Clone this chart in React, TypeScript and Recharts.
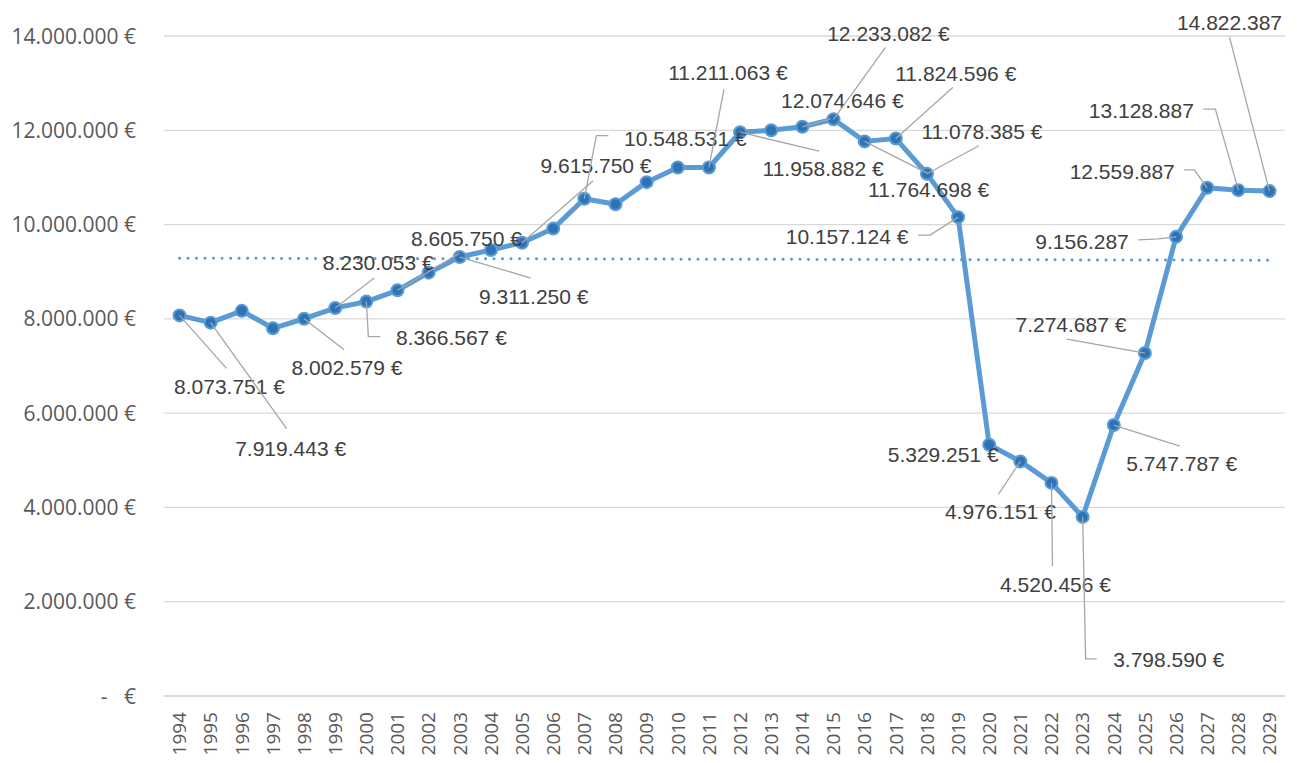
import React from "react";
import { LineChart, Line, XAxis, YAxis, CartesianGrid, LabelList } from "recharts";

const YEARS = [
  1994, 1995, 1996, 1997, 1998, 1999, 2000, 2001, 2002, 2003, 2004, 2005,
  2006, 2007, 2008, 2009, 2010, 2011, 2012, 2013, 2014, 2015, 2016, 2017,
  2018, 2019, 2020, 2021, 2022, 2023, 2024, 2025, 2026, 2027, 2028, 2029,
];

const VALUES = [
  8073751, 7919443, 8170000, 7800000, 8002579, 8230053, 8366567, 8605750,
  8980000, 9311250, 9460000, 9615750, 9915000, 10548531, 10430000, 10900000,
  11210000, 11211063, 11958882, 12000000, 12074646, 12233082, 11764698, 11824596,
  11078385, 10157124, 5329251, 4976151, 4520456, 3798590, 5747787, 7274687,
  9740000, 10780000, 10730000, 10710000,
];

const LABELS: (string | null)[] = [
  "8.073.751 €", "7.919.443 €", null, null, "8.002.579 €", "8.230.053 €",
  "8.366.567 €", "8.605.750 €", null, "9.311.250 €", null, "9.615.750 €",
  null, "10.548.531 €", null, null, null, "11.211.063 €",
  "11.958.882 €", null, "12.074.646 €", "12.233.082 €", "11.764.698 €", "11.824.596 €",
  "11.078.385 €", "10.157.124 €", "5.329.251 €", "4.976.151 €", "4.520.456 €", "3.798.590 €",
  "5.747.787 €", "7.274.687 €", "9.156.287", "12.559.887", "13.128.887", "14.822.387",
];

// linear trend, start and end values
const TREND_ENDS = [9287000, 9243000];

const Y_TICKS = [0, 2000000, 4000000, 6000000, 8000000, 10000000, 12000000, 14000000];

// where Excel placed each data label, relative to its point: text centre/baseline and leader path
const LABEL_LAYOUT: { [year: number]: { dx: number; dy: number; leader: number[][] } } = {
  1994: { dx: 50, dy: 79, leader: [[47, 53]] },
  1995: { dx: 80, dy: 133, leader: [[76, 106]] },
  1998: { dx: 43, dy: 56, leader: [[40, 31]] },
  1999: { dx: 43, dy: -38, leader: [[39, -30]] },
  2000: { dx: 85, dy: 43, leader: [[2, 35], [14, 35]] },
  2001: { dx: 69, dy: -44, leader: [[62, -37]] },
  2003: { dx: 74, dy: 47, leader: [[71, 21]] },
  2005: { dx: 74, dy: -70, leader: [[71, -62]] },
  2007: { dx: 101, dy: -53, leader: [[12, -63], [24, -63]] },
  2011: { dx: 19, dy: -87, leader: [[15, -78]] },
  2012: { dx: 83, dy: 44, leader: [[79, 19]] },
  2014: { dx: 40, dy: -19, leader: [[28, -8]] },
  2015: { dx: 55, dy: -78, leader: [[52, -72]] },
  2016: { dx: 64, dy: 56, leader: [[63, 32]] },
  2017: { dx: 60, dy: -58, leader: [[57, -51]] },
  2018: { dx: 55, dy: -35, leader: [[52, -28]] },
  2019: { dx: -111, dy: 27, leader: [[-28, 18], [-40, 18]] },
  2020: { dx: -46, dy: 17, leader: [] },
  2021: { dx: -20, dy: 58, leader: [[-22, 33]] },
  2022: { dx: 4, dy: 109, leader: [[1, 83]] },
  2023: { dx: 86, dy: 150, leader: [[3, 142], [14, 142]] },
  2024: { dx: 68, dy: 46, leader: [[66, 21]] },
  2025: { dx: -74, dy: -21, leader: [[-78, -14]] },
  2026: { dx: -94, dy: 12, leader: [[-18, 2], [-38, 3]] },
  2027: { dx: -85, dy: -9, leader: [[-13, -18], [-23, -18]] },
  2028: { dx: -97, dy: -72, leader: [[-23, -81], [-35, -81]] },
  2029: { dx: -40, dy: -161, leader: [[-40, -154]] },
};

const FONT = "'Liberation Sans', Arial, sans-serif";
const AXIS_FONT = "'Open Sans', 'Noto Sans', sans-serif";
const BLUE = "#5B9BD5";

const data = YEARS.map((year, i) => ({
  year: String(year),
  value: VALUES[i],
  label: LABELS[i],
  trend: i === 0 ? TREND_ENDS[0] : i === YEARS.length - 1 ? TREND_ENDS[1] : null,
}));

const euro = (v: number) =>
  v === 0 ? "-   €" : String(v).replace(/\B(?=(\d{3})+(?!\d))/g, ".") + " €";

const YTick = (props: any) => {
  const { x, y, payload } = props;
  return (
    <text x={x} y={y} dy="0.36em" textAnchor="end" fill="#595959" fontSize={21}
      fontFamily={AXIS_FONT} style={{ whiteSpace: "pre" }}>
      {euro(payload.value)}
    </text>
  );
};

const XTick = (props: any) => {
  const { x, y, payload } = props;
  return (
    <text x={x} y={y} dy="0.36em" textAnchor="end" fill="#595959" fontSize={19}
      fontFamily={AXIS_FONT} transform={`rotate(-90, ${x}, ${y})`}>
      {payload.value}
    </text>
  );
};

const renderLabel = (props: any) => {
  const { x, y, index } = props;
  const text = LABELS[index];
  const layout = LABEL_LAYOUT[YEARS[index]];
  if (!text || !layout || x == null || y == null) return null;
  const pts = [[x, y], ...layout.leader.map(([lx, ly]) => [x + lx, y + ly])];
  return (
    <g>
      {pts.length > 1 && (
        <polyline points={pts.map((p) => p.join(",")).join(" ")} fill="none"
          stroke="#A6A6A6" strokeWidth={1.3} />
      )}
      <text x={x + layout.dx} y={y + layout.dy} textAnchor="middle" fill="#404040"
        fontSize={21} fontFamily={FONT}>
        {text}
      </text>
    </g>
  );
};

export default function App() {
  return (
    <div style={{ position: "absolute", left: 0, top: 0, background: "#fff" }}>
      <LineChart width={1297} height={763} data={data}
        margin={{ top: 36, right: 12, bottom: 0, left: 0 }}>
        <CartesianGrid vertical={false} stroke="#D9D9D9" strokeWidth={1.3} />
        <XAxis dataKey="year" interval={0} height={67} tickSize={0} tickMargin={16}
          padding={{ left: 15.5, right: 15.5 }}
          axisLine={{ stroke: "#D9D9D9", strokeWidth: 1.3 }} tickLine={false} tick={<XTick />} />
        <YAxis width={164} domain={[0, 14000000]} ticks={Y_TICKS} tickSize={0} tickMargin={28}
          axisLine={false} tickLine={false} tick={<YTick />} />
        <Line dataKey="trend" connectNulls stroke={BLUE} strokeWidth={3} strokeLinecap="round"
          strokeDasharray="0.1 8.4" dot={false} isAnimationActive={false} />
        <Line dataKey="value" stroke={BLUE} strokeWidth={5} strokeLinejoin="round"
          dot={{ r: 6, fill: "#2E74B5", stroke: BLUE, strokeWidth: 2 }} activeDot={false}
          isAnimationActive={false}>
          <LabelList dataKey="label" content={renderLabel} />
        </Line>
      </LineChart>
    </div>
  );
}
